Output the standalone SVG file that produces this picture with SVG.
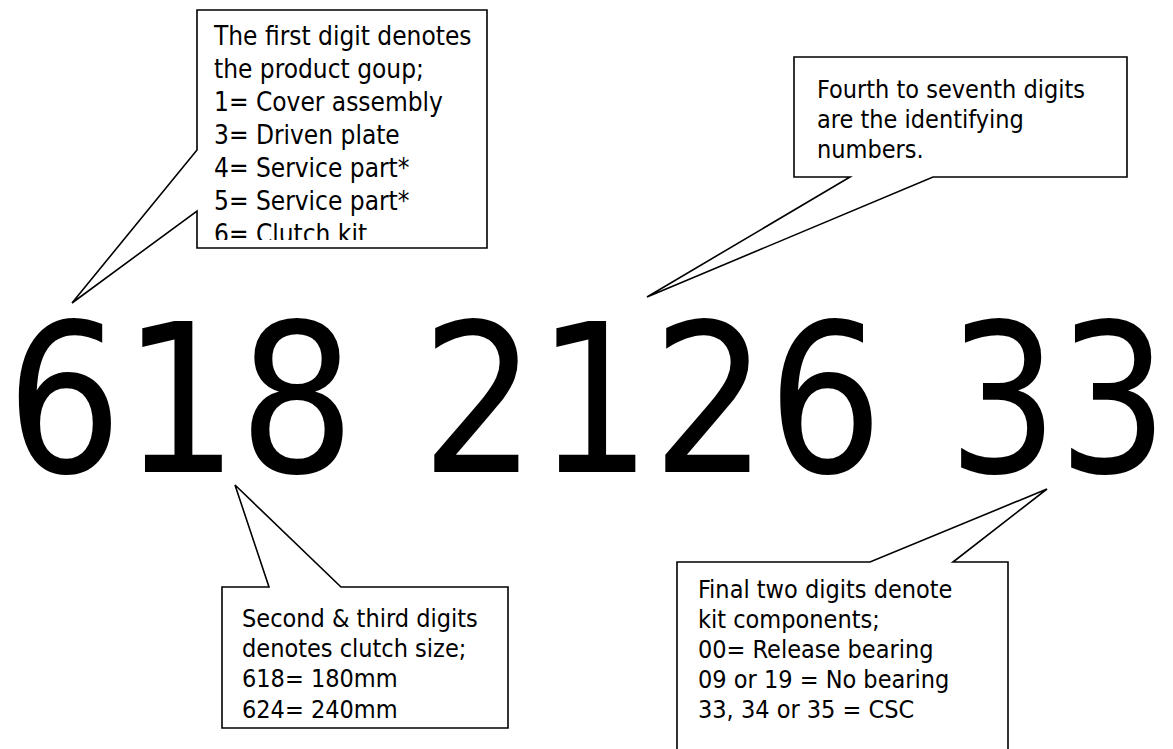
<svg xmlns="http://www.w3.org/2000/svg" width="1173" height="749" viewBox="0 0 1173 749">
<style>
.bub{fill:#fff;stroke:#000;stroke-width:1.6;stroke-linejoin:miter}
.t{font-family:"DejaVu Sans Condensed","DejaVu Sans",sans-serif;font-stretch:condensed;fill:#000}
.s1{font-size:26px}
.s2{font-size:25px}
.big{font-family:"DejaVu Sans Condensed","DejaVu Sans",sans-serif;font-stretch:condensed;font-size:207px;fill:#000}
</style>
<defs>
<clipPath id="clip1"><rect x="197" y="10" width="290" height="230"/></clipPath>
</defs>
<rect width="1173" height="749" fill="#fff"/>
<g id="connectors"></g>
<g id="number">
<text class="big" transform="translate(6,472) scale(0.982,1)">618</text>
<text class="big" transform="translate(421,472) scale(0.975,1)">2126</text>
<text class="big" transform="translate(948,472) scale(0.928,1)">33</text>
</g>
<g id="callout-first-digit">
<path class="bub" d="M197,10 L487,10 L487,248 L197,248 L197,211 L72,303 L197,150 Z"/>
<g clip-path="url(#clip1)" class="t s1">
<text x="214" y="45">The first digit denotes</text>
<text x="214" y="78">the product goup;</text>
<text x="214" y="111">1= Cover assembly</text>
<text x="214" y="144">3= Driven plate</text>
<text x="214" y="177">4= Service part*</text>
<text x="214" y="210">5= Service part*</text>
<text x="214" y="243">6= Clutch kit</text>
</g>
</g>
<g id="callout-identifying">
<path class="bub" d="M794,57 L1127,57 L1127,177 L933,177 L647,297 L850,177 L794,177 Z"/>
<g class="t s2">
<text x="817" y="98">Fourth to seventh digits</text>
<text x="817" y="128">are the identifying</text>
<text x="817" y="158">numbers.</text>
</g>
</g>
<g id="callout-size">
<path class="bub" d="M222,587 L269,587 L235,485 L341,587 L508,587 L508,728 L222,728 Z"/>
<g class="t s2">
<text x="242" y="627">Second &amp; third digits</text>
<text x="242" y="657">denotes clutch size;</text>
<text x="242" y="687">618= 180mm</text>
<text x="242" y="718">624= 240mm</text>
</g>
</g>
<g id="callout-components">
<path class="bub" d="M677,562 L870,562 L1047,489 L953,562 L1008,562 L1008,760 L677,760 Z"/>
<g class="t s2">
<text x="698" y="598">Final two digits denote</text>
<text x="698" y="628">kit components;</text>
<text x="698" y="658">00= Release bearing</text>
<text x="698" y="688">09 or 19 = No bearing</text>
<text x="698" y="718">33, 34 or 35 = CSC</text>
</g>
</g>
</svg>
